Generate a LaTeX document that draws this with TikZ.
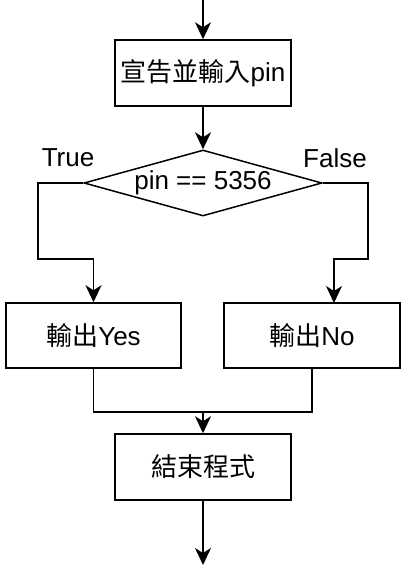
\documentclass[tikz,border=0pt]{standalone}
\usepackage{fontspec}
\setmainfont{Liberation Sans}
\newfontfamily\cjk{Noto Sans CJK TC}
\usetikzlibrary{shapes.geometric,arrows.meta}
\begin{document}
\begin{tikzpicture}[x=1pt,y=-1pt,
  every node/.style={font=\fontsize{26}{30}\selectfont},
  box/.style={draw, line width=1.5pt, inner sep=0pt, minimum width=176pt, minimum height=66pt},
  dec/.style={draw, line width=1.5pt, shape=diamond, aspect=3.6, inner sep=0pt, minimum width=238pt, minimum height=66pt},
  lbl/.style={inner sep=0pt},
  conn/.style={line width=1.5pt},
  arr/.style={conn, -{Stealth[length=17pt,width=16pt,inset=5pt]}}]
\useasboundingbox (0,0) rectangle (410,570);
\coordinate (top) at (203,0);
\node[box] (b1) at (203,73) {{\cjk 宣告並輸入}pin};
\node[dec] (dia) at (203,183) {pin == 5356};
\node[lbl] (t) at (68,158) {True};
\node[lbl] (f) at (335,158) {False};
\node[box, minimum width=175pt, minimum height=65pt] (yes) at (93.5,335.5) {{\cjk 輸出}Yes};
\node[box, minimum height=65pt] (no) at (312,335.5) {{\cjk 輸出}No};
\node[box] (end) at (203,467) {\cjk 結束程式};
\coordinate (bot) at (203,565);
\coordinate (l1) at (38,259);
\coordinate (r1) at (368,259);
\coordinate (noin) at (334,303);
\coordinate (m) at (203,412);
\draw[arr] (top) -- (b1.north);
\draw[arr] (b1.south) -- (dia.north);
\draw[arr] (dia.west) -| (l1) -| (yes.north);
\draw[arr] (dia.east) -| (r1) -| (noin);
\draw[conn] (yes.south) |- (m) -| (no.south);
\draw[arr] (m) -- (end.north);
\draw[arr] (end.south) -- (bot);
\end{tikzpicture}
\end{document}
